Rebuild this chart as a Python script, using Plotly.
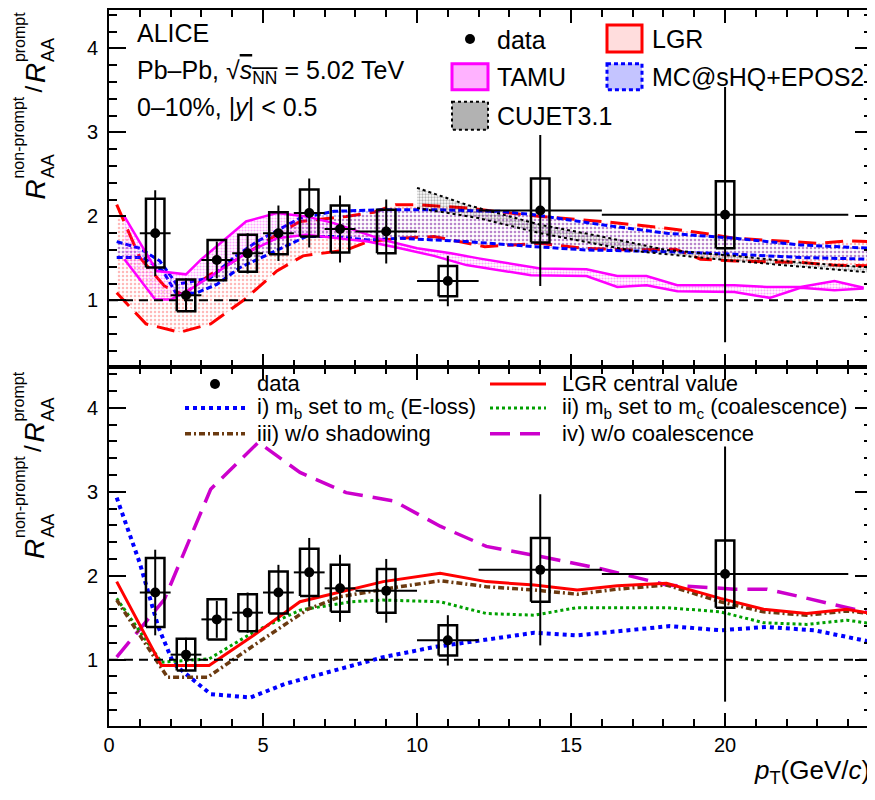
import plotly.graph_objects as go

# ---------------- data ----------------
pt = [1.5, 2.5, 3.5, 4.5, 5.5, 6.5, 7.5, 9.0, 11.0, 14.0, 20.0]
pt_lo = [1, 2, 3, 4, 5, 6, 7, 8, 10, 12, 16]
pt_hi = [2, 3, 4, 5, 6, 7, 8, 10, 12, 16, 24]
ratio = [1.80, 1.06, 1.48, 1.56, 1.80, 2.04, 1.85, 1.82, 1.23, 2.07, 2.02]
stat = [0.51, 0.20, 0.22, 0.24, 0.33, 0.41, 0.40, 0.38, 0.30, 0.90, 1.52]
syst = [0.41, 0.19, 0.24, 0.22, 0.25, 0.28, 0.28, 0.26, 0.18, 0.38, 0.40]

# top panel models (upper / lower edges)
lgr_up_x = [0.25, 1.0, 1.8, 2.4, 3.3, 4.3, 5.3, 6.2, 7.7, 8.6, 9.3, 10.0, 11.6, 14.0, 16.0, 18.1, 19.3, 20.3, 23.0, 24.0, 24.77]
lgr_up_y = [2.14, 1.51, 1.17, 1.07, 1.31, 1.52, 1.75, 1.94, 2.00, 2.05, 2.14, 2.14, 2.10, 2.00, 1.94, 1.86, 1.80, 1.74, 1.68, 1.71, 1.70]
lgr_lo_x = [0.25, 1.2, 2.3, 3.3, 4.4, 5.45, 6.3, 7.7, 8.4, 9.45, 10.55, 12.2, 14.0, 15.4, 17.0, 18.4, 19.2, 20.3, 22.5, 23.5, 24.77]
lgr_lo_y = [1.09, 0.72, 0.62, 0.72, 1.01, 1.35, 1.53, 1.60, 1.70, 1.74, 1.76, 1.64, 1.68, 1.62, 1.60, 1.61, 1.49, 1.47, 1.45, 1.42, 1.41]

tamu_up_x = [0.5, 1.55, 2.5, 3.0, 4.45, 5.45, 6.4, 7.3, 8.9, 10.0, 11.1, 12.0, 14.0, 15.5, 16.5, 17.45, 18.45, 20.3, 21.35, 22.45, 23.55, 24.5]
tamu_up_y = [2.00, 1.35, 1.31, 1.49, 1.94, 2.04, 2.00, 1.92, 1.72, 1.62, 1.56, 1.50, 1.38, 1.37, 1.29, 1.29, 1.18, 1.18, 1.16, 1.16, 1.23, 1.15]
tamu_lo_x = [0.5, 1.5, 2.0, 2.55, 4.45, 5.45, 6.4, 7.3, 8.4, 9.45, 10.55, 11.6, 13.7, 15.5, 16.5, 17.45, 18.45, 20.3, 21.45, 22.45, 23.55, 24.5]
tamu_lo_y = [1.49, 1.01, 1.01, 1.11, 1.56, 1.74, 1.78, 1.74, 1.70, 1.62, 1.53, 1.42, 1.30, 1.29, 1.16, 1.18, 1.11, 1.10, 1.03, 1.15, 1.12, 1.14]

mc_up_x = [0.25, 1.0, 1.65, 2.2, 3.3, 4.05, 4.8, 6.2, 7.3, 8.9, 10.5, 12.7, 13.8, 16.0, 18.1, 20.3, 22.45, 24.77]
mc_up_y = [1.70, 1.62, 1.47, 1.19, 1.27, 1.51, 1.70, 1.98, 2.06, 2.08, 2.08, 2.06, 2.02, 1.90, 1.80, 1.74, 1.66, 1.62]
mc_lo_x = [0.25, 1.1, 1.75, 2.2, 2.85, 3.5, 4.25, 5.35, 6.4, 7.3, 8.4, 9.45, 10.55, 11.6, 13.8, 15.5, 18.1, 20.3, 22.45, 24.77]
mc_lo_y = [1.51, 1.51, 1.35, 1.07, 1.09, 1.19, 1.39, 1.58, 1.76, 1.76, 1.72, 1.74, 1.72, 1.70, 1.64, 1.60, 1.58, 1.55, 1.51, 1.49]

cujet_up_x = [10.0, 11.6, 14.0, 16.0, 18.1, 20.3, 22.45, 24.77]
cujet_up_y = [2.34, 2.14, 1.90, 1.76, 1.60, 1.53, 1.45, 1.39]
cujet_lo_x = [10.0, 12.0, 14.0, 17.0, 20.3, 24.77]
cujet_lo_y = [2.10, 1.98, 1.80, 1.59, 1.47, 1.33]

# bottom panel model variations
lgr_c_x = [0.25, 1.7, 3.25, 4.7, 6.2, 7.3, 8.9, 10.75, 12.25, 13.8, 15.2, 16.5, 18.1, 19.85, 21.25, 22.65, 23.95, 24.77]
lgr_c_y = [1.93, 0.93, 0.93, 1.29, 1.69, 1.79, 1.93, 2.03, 1.93, 1.89, 1.83, 1.88, 1.91, 1.73, 1.60, 1.55, 1.60, 1.55]
shad_x = [0.25, 1.9, 3.2, 4.7, 6.45, 7.5, 9.45, 10.75, 12.25, 13.8, 15.2, 16.5, 18.1, 19.85, 21.25, 22.65, 23.95, 24.77]
shad_y = [1.71, 0.79, 0.79, 1.17, 1.60, 1.75, 1.87, 1.94, 1.87, 1.83, 1.78, 1.84, 1.89, 1.69, 1.57, 1.53, 1.58, 1.55]
coal_x = [0.25, 1.7, 3.25, 4.7, 6.2, 7.85, 8.9, 10.75, 12.25, 13.8, 15.2, 18.1, 19.85, 21.25, 22.65, 23.95, 24.77]
coal_y = [1.73, 0.97, 1.01, 1.33, 1.59, 1.69, 1.71, 1.69, 1.55, 1.53, 1.62, 1.62, 1.57, 1.44, 1.42, 1.47, 1.43]
eloss_x = [0.25, 1.0, 1.6, 2.1, 3.3, 4.6, 5.7, 7.3, 8.9, 10.55, 12.7, 13.8, 15.2, 18.2, 19.85, 21.35, 22.9, 24.77]
eloss_y = [2.93, 2.15, 1.39, 0.95, 0.59, 0.55, 0.71, 0.87, 1.03, 1.15, 1.27, 1.32, 1.29, 1.40, 1.35, 1.39, 1.35, 1.21]
nocoal_x = [0.25, 1.8, 3.3, 4.85, 6.2, 7.7, 9.25, 10.75, 12.25, 14.0, 16.0, 18.1, 20.3, 21.35, 22.45, 24.77]
nocoal_y = [1.03, 1.72, 3.03, 3.59, 3.23, 2.99, 2.89, 2.59, 2.35, 2.23, 2.08, 1.89, 1.84, 1.84, 1.75, 1.55]

X_RANGE = [0, 24.77]
Y_RANGE_BOT = [0.21, 4.49]
Y_RANGE_TOP = [0.21, 4.458]
FONT = "Liberation Sans, Arial, Helvetica, sans-serif"

# page offset (body margin) and plot-area geometry in screenshot pixels
OFF = 8
PL, PR, PT, PB = 109, 872, 8, 726
SPLIT = 365.7
FIG_W, FIG_H = 875 - OFF, 800 - OFF
DOM_SPLIT = (PB - SPLIT) / (PB - PT)


def pp(xp, yp):
    return (xp - PL) / (PR - PL), (PB - yp) / (PB - PT)


fig = go.Figure()


def band(xa, ya, up_x, up_y, lo_x, lo_y, color, pat_color, dash, width, size=4, sol=0.35):
    fig.add_trace(go.Scatter(
        x=up_x + lo_x[::-1], y=up_y + lo_y[::-1], xaxis=xa, yaxis=ya,
        mode="none", fill="toself", fillcolor="rgba(0,0,0,0)",
        fillpattern=dict(shape=".", fgcolor=pat_color, bgcolor="rgba(0,0,0,0)",
                         size=size, solidity=sol),
        hoverinfo="skip"))
    for xs, ys in ((up_x, up_y), (lo_x, lo_y)):
        fig.add_trace(go.Scatter(x=xs, y=ys, xaxis=xa, yaxis=ya, mode="lines",
                                 line=dict(color=color, width=width, dash=dash),
                                 hoverinfo="skip"))


# top panel: x2 / y2
band("x2", "y2", lgr_up_x, lgr_up_y, lgr_lo_x, lgr_lo_y, "#ff0000", "rgba(255,0,0,0.55)", "18px,9px", 3, 4, 0.3)
band("x2", "y2", mc_up_x, mc_up_y, mc_lo_x, mc_lo_y, "#0000ff", "rgba(0,0,255,0.55)", "6px,3px", 3, 4, 0.35)
band("x2", "y2", tamu_up_x, tamu_up_y, tamu_lo_x, tamu_lo_y, "#ff00ff", "rgba(255,0,255,0.7)", "solid", 2.5, 3, 0.4)
band("x2", "y2", cujet_up_x, cujet_up_y, cujet_lo_x, cujet_lo_y, "#000000", "rgba(0,0,0,0.6)", "dot", 2, 3, 0.45)

# bottom panel curves: x / y
curves = [
    (nocoal_x, nocoal_y, "#cc00cc", "20px,10px", 3.5),
    (eloss_x, eloss_y, "#0000ff", "dot", 4),
    (coal_x, coal_y, "#00a000", "dot", 3),
    (shad_x, shad_y, "#6b3a10", "6px,3px,2px,3px", 3.5),
    (lgr_c_x, lgr_c_y, "#ff0000", "solid", 3),
]
for xs, ys, c, d, w in curves:
    fig.add_trace(go.Scatter(x=xs, y=ys, xaxis="x", yaxis="y", mode="lines",
                             line=dict(color=c, width=w, dash=d), hoverinfo="skip"))

# data in both panels
BOX_HW = 0.3
for xa, ya in (("x", "y"), ("x2", "y2")):
    bx, by = [], []
    for x, y, s in zip(pt, ratio, syst):
        bx += [x - BOX_HW, x + BOX_HW, x + BOX_HW, x - BOX_HW, x - BOX_HW, None]
        by += [y - s, y - s, y + s, y + s, y - s, None]
    fig.add_trace(go.Scatter(x=bx, y=by, xaxis=xa, yaxis=ya, mode="lines",
                             line=dict(color="black", width=2.5), hoverinfo="skip"))
    fig.add_trace(go.Scatter(
        x=pt, y=ratio, xaxis=xa, yaxis=ya, mode="markers",
        marker=dict(color="black", size=10),
        error_x=dict(type="data", symmetric=False,
                     array=[h - x for h, x in zip(pt_hi, pt)],
                     arrayminus=[x - l for l, x in zip(pt_lo, pt)],
                     color="black", thickness=2, width=0),
        error_y=dict(type="data", array=stat, color="black", thickness=2, width=0),
        hoverinfo="skip"))

shapes = []
for ya in ("y", "y2"):
    shapes.append(dict(type="line", xref="x domain", x0=0, x1=1, yref=ya, y0=1, y1=1,
                       line=dict(color="black", width=2, dash="9px,6px")))

annotations = []


def text(xp, yp, s, size, xanchor="left", angle=0, color="black"):
    x, y = pp(xp, yp)
    annotations.append(dict(xref="paper", yref="paper", x=x, y=y, text=s, showarrow=False,
                            xanchor=xanchor, yanchor="middle", textangle=angle,
                            font=dict(size=size, color=color, family=FONT)))


# top panel header text
text(135, 31, "ALICE", 25)
text(135, 70, "Pb–Pb, √<span style='text-decoration:overline'><i>s</i><sub>NN</sub></span> = 5.02 TeV", 25)
text(135, 105, "0–10%, |<i>y</i>| &lt; 0.5", 25)

# top legend
text(495, 38, "data", 25)
text(650, 37, "LGR", 25)
text(495, 75, "TAMU", 25)
text(650, 75, "MC@sHQ+EPOS2", 25)
text(495, 114, "CUJET3.1", 25)


def rect(x0p, y0p, x1p, y1p, line_color, fill, dash="solid", width=3):
    a, b = pp(x0p, y0p)
    c, d = pp(x1p, y1p)
    shapes.append(dict(type="rect", xref="paper", yref="paper", x0=a, y0=b, x1=c, y1=d,
                       line=dict(color=line_color, width=width, dash=dash), fillcolor=fill))


def dot(xp, yp, r=5):
    a, b = pp(xp - r, yp - r)
    c, d = pp(xp + r, yp + r)
    shapes.append(dict(type="circle", xref="paper", yref="paper", x0=a, y0=b, x1=c, y1=d,
                       line=dict(color="black", width=0), fillcolor="black"))


def hline(x0p, x1p, yp, color, dash, width):
    a, b = pp(x0p, yp)
    c, _ = pp(x1p, yp)
    shapes.append(dict(type="line", xref="paper", yref="paper", x0=a, y0=b, x1=c, y1=b,
                       line=dict(color=color, width=width, dash=dash)))


dot(470, 37)
rect(607, 23, 642, 50, "#ff0000", "rgba(255,120,120,0.25)")
rect(452, 62, 488, 88, "#ff00ff", "rgba(255,0,255,0.3)")
rect(607, 62, 642, 88, "#0000ff", "rgba(60,60,255,0.3)", "4px,3px")
rect(452, 100, 488, 128, "#000000", "rgba(0,0,0,0.3)", "dot", 2)

# bottom legend
dot(215, 383)
text(255, 383, "data", 22)
hline(185, 245, 407, "#0000ff", "dot", 4)
text(255, 407, "i) m<sub>b</sub> set to m<sub>c</sub> (E-loss)", 22)
hline(185, 245, 433, "#6b3a10", "6px,3px,2px,3px", 3.5)
text(255, 433, "iii) w/o shadowing", 22)
hline(490, 546, 383, "#ff0000", "solid", 3)
text(560, 383, "LGR central value", 22)
hline(490, 546, 407, "#00a000", "dot", 3)
text(560, 407, "ii) m<sub>b</sub> set to m<sub>c</sub> (coalescence)", 22)
hline(490, 546, 433, "#cc00cc", "20px,10px", 3.5)
text(560, 433, "iv) w/o coalescence", 22)

# x-axis title
text(872, 772, "<i>p</i><sub>T</sub>(GeV/<i>c</i>)", 26, xanchor="right")

# y-axis titles (stacked sub/superscripts, rotated)
W = {"R": .722, "A": .667, "n": .556, "o": .556, "p": .556, "r": .333, "m": .833,
     "t": .278, "-": .333, "/": .278}


def tw(s, size):
    return sum(W[c] for c in s) * size


def ytitle(y_bottom):
    SR, SSUB, SSUP = 28, 18, 16
    y = y_bottom
    for sup in ("non-prompt", "prompt"):
        w = tw("R", SR)
        text(35, y - w / 2, "<i>R</i>", SR, xanchor="center", angle=-90)
        y -= w + 1
        ws, wp = tw("AA", SSUB), tw(sup, SSUP)
        text(48, y - ws / 2, "AA", SSUB, xanchor="center", angle=-90)
        text(19, y - wp / 2, sup, SSUP, xanchor="center", angle=-90)
        y -= max(ws, wp) + 2
        if sup == "non-prompt":
            wsl = tw("/", 24)
            text(33, y - wsl / 2 - 2, "/", 24, xanchor="center", angle=-90)
            y -= wsl + 5


ytitle(198)
ytitle(198 + 360.5)

axis_common = dict(showgrid=False, zeroline=False, showline=True, linecolor="black",
                   linewidth=2, mirror="allticks", ticks="inside", tickcolor="black",
                   tickfont=dict(size=20, color="black", family=FONT))
fig.update_layout(
    width=FIG_W, height=FIG_H,
    margin=dict(l=PL - OFF, r=875 - PR, t=PT - OFF, b=800 - PB),
    paper_bgcolor="white", plot_bgcolor="white",
    showlegend=False,
    font=dict(family=FONT, color="black"),
    xaxis=dict(domain=[0, 1], anchor="y", range=X_RANGE, tick0=0, dtick=5,
               ticklen=13, tickwidth=1.5,
               minor=dict(dtick=1, ticklen=7, ticks="inside", tickcolor="black", tickwidth=1.5),
               **axis_common),
    yaxis=dict(domain=[0, DOM_SPLIT], anchor="x", range=Y_RANGE_BOT, tick0=0, dtick=1,
               ticklen=17, tickwidth=1.5, ticklabelstandoff=5,
               minor=dict(dtick=0.2, ticklen=8, ticks="inside", tickcolor="black", tickwidth=1.5),
               **axis_common),
    xaxis2=dict(domain=[0, 1], anchor="y2", matches="x", range=X_RANGE, tick0=0, dtick=5,
                ticklen=13, tickwidth=1.5, showticklabels=False,
                minor=dict(dtick=1, ticklen=7, ticks="inside", tickcolor="black", tickwidth=1.5),
                **axis_common),
    yaxis2=dict(domain=[DOM_SPLIT, 1], anchor="x2", range=Y_RANGE_TOP, tick0=0, dtick=1,
                ticklen=17, tickwidth=1.5, ticklabelstandoff=5,
                minor=dict(dtick=0.2, ticklen=8, ticks="inside", tickcolor="black", tickwidth=1.5),
                **axis_common),
    shapes=shapes,
    annotations=annotations,
)

fig.write_html("out.html")
